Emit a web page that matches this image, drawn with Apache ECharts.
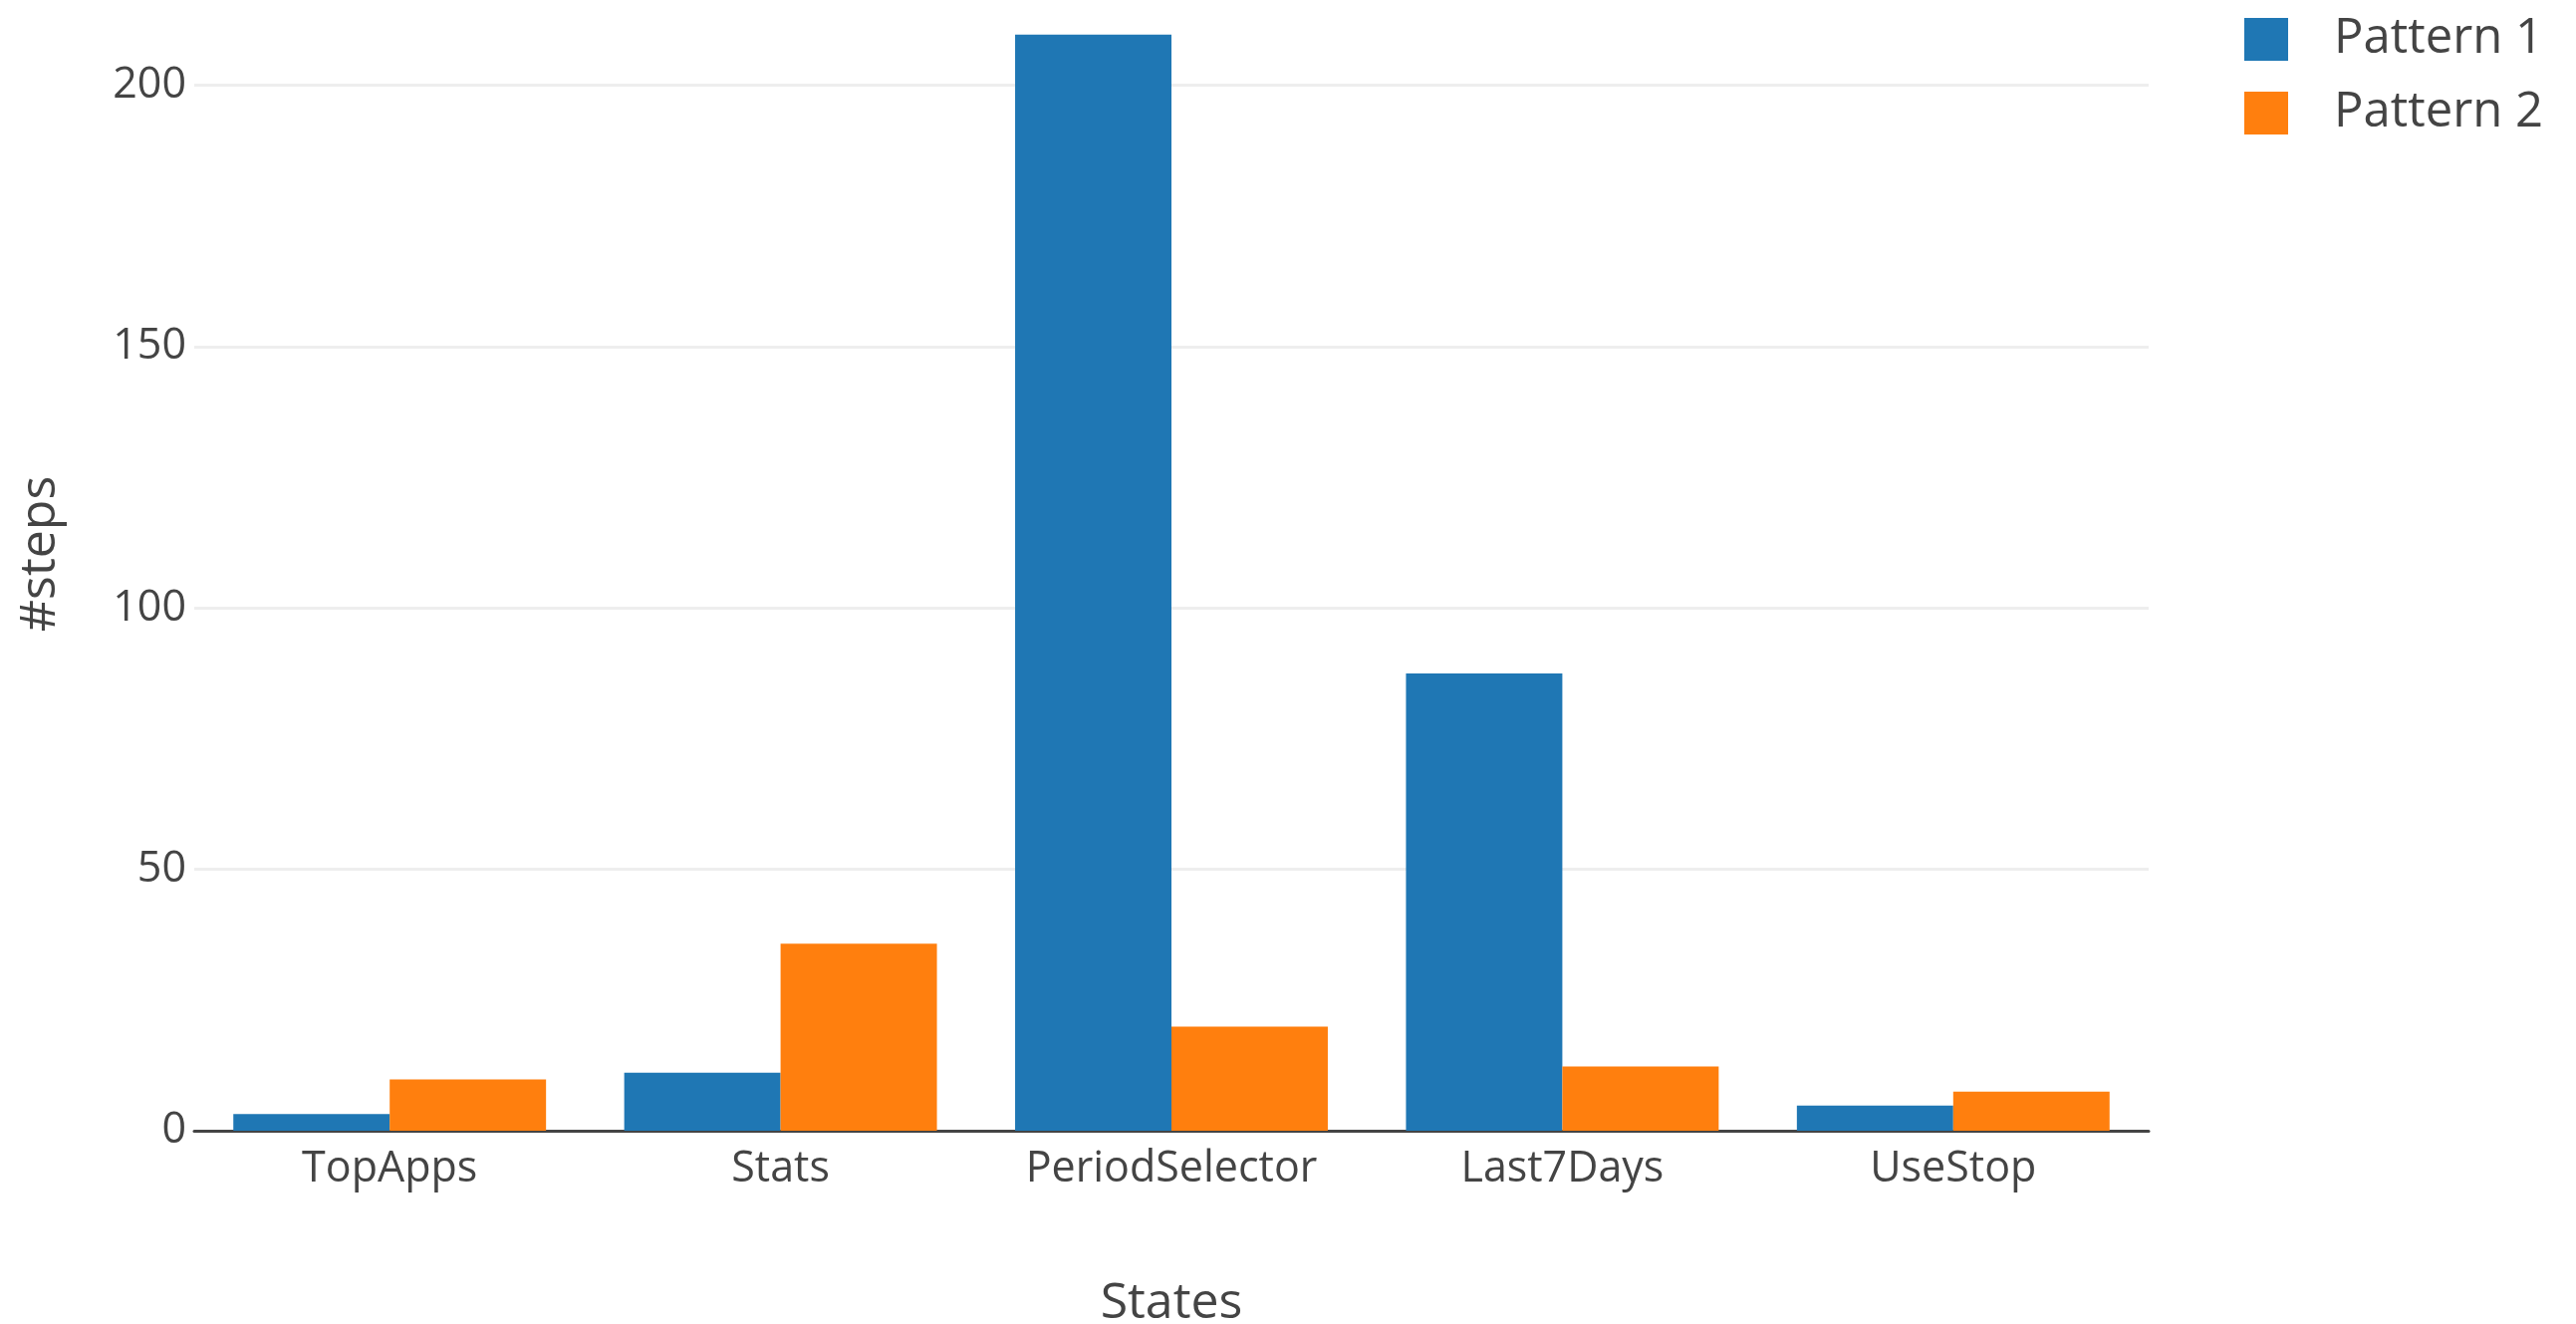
<!DOCTYPE html>
<html>
<head>
<meta charset="utf-8">
<script src="https://cdn.jsdelivr.net/npm/echarts@6/dist/echarts.min.js"></script>
<style>html,body{margin:0;padding:0;background:#fff;}#c{width:2586px;height:1329px;}</style>
</head>
<body>
<div id="c"></div>
<script>
const categories = ['TopApps', 'Stats', 'PeriodSelector', 'Last7Days', 'UseStop'];
const pattern1 = [3.2, 11.1, 209.7, 87.5, 4.8];
const pattern2 = [9.8, 35.8, 19.9, 12.3, 7.5];
const yTicks = [0, 50, 100, 150, 200];

const chart = echarts.init(document.getElementById('c'), null, {renderer: 'canvas'});
const font = '"Open Sans", "Noto Sans", sans-serif';
chart.setOption({
  animation: false,
  backgroundColor: '#fff',
  textStyle: {fontFamily: font},
  legend: {
    orient: 'vertical',
    left: 2248, top: 10,
    itemWidth: 44, itemHeight: 43, itemGap: 25,
    icon: 'rect',
    textStyle: {fontSize: 49, lineHeight: 43, color: '#444', fontFamily: font, padding: [0, 0, 0, 41]},
    data: ['Pattern 1', 'Pattern 2']
  },
  grid: {left: 195, right: 429, top: 7, bottom: 194, containLabel: false, outerBoundsMode: 'none'},
  xAxis: {
    type: 'category',
    data: categories,
    name: 'States',
    nameLocation: 'middle',
    nameGap: 149,
    nameTextStyle: {fontSize: 50, color: '#444', fontFamily: font},
    axisLine: {show: true, lineStyle: {color: '#444', width: 3}},
    axisTick: {show: false},
    axisLabel: {fontSize: 43, color: '#444', margin: 17, fontFamily: font}
  },
  yAxis: {
    type: 'value',
    min: 0, max: 215, interval: 50,
    name: '#steps',
    nameLocation: 'middle',
    nameGap: 129,
    nameRotate: 90,
    nameTextStyle: {fontSize: 50, color: '#444', fontFamily: font, padding: [0, 0, 0, 30]},
    axisLine: {show: false},
    axisTick: {show: false},
    axisLabel: {
      fontSize: 43, color: '#444', margin: 8, fontFamily: font,
      showMaxLabel: false,
      formatter: v => yTicks.includes(v) ? String(v) : ''
    },
    splitLine: {show: true, showMaxLine: false, lineStyle: {color: '#eeeeee', width: 3}}
  },
  series: [
    {name: 'Pattern 1', type: 'bar', data: pattern1, barGap: '0%', barCategoryGap: '20%',
     itemStyle: {color: '#1f77b4'}},
    {name: 'Pattern 2', type: 'bar', data: pattern2, barGap: '0%', barCategoryGap: '20%',
     itemStyle: {color: '#ff7f0e'}}
  ]
});
</script>
</body>
</html>
